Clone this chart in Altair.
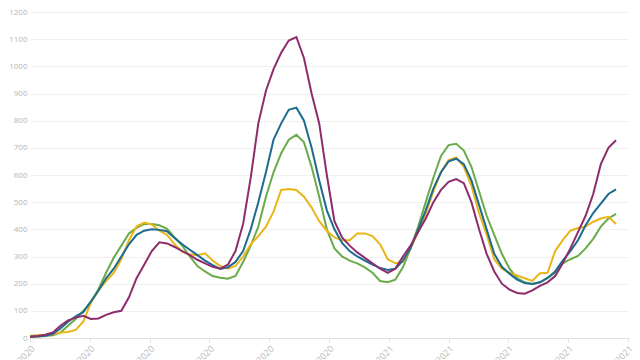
import altair as alt
import pandas as pd
import datetime as dt

start = dt.date(2020, 3, 1)
step_days = 7

purple = [5, 7, 12, 20, 45, 65, 75, 82, 70, 72,
          85, 95, 100, 150, 220, 270, 320, 352, 348, 335,
          320, 305, 288, 275, 262, 255, 270, 320, 420, 590,
          790, 910, 990, 1050, 1095, 1108, 1030, 900, 790, 600,
          430, 370, 340, 315, 295, 275, 255, 240, 255, 300,
          340, 390, 440, 500, 545, 575, 585, 570, 500, 400,
          310, 245, 200, 178, 166, 163, 175, 192, 205, 228,
          275, 330, 390, 450, 530, 640, 700, 728]
blue = [5, 6, 8, 15, 35, 60, 80, 95, 135, 175,
        220, 255, 300, 345, 380, 395, 400, 398, 393, 368,
        345, 325, 305, 285, 268, 254, 260, 280, 320, 400,
        500, 610, 730, 790, 840, 848, 800, 700, 580, 470,
        400, 350, 320, 300, 285, 270, 258, 250, 255, 285,
        330, 400, 470, 550, 610, 650, 660, 640, 580, 490,
        400, 310, 262, 237, 215, 202, 199, 205, 221, 245,
        285, 320, 360, 415, 460, 495, 530, 547]
green = [4, 5, 7, 10, 20, 45, 70, 100, 130, 180,
         240, 295, 340, 385, 405, 420, 420, 415, 402, 370,
         340, 300, 265, 245, 228, 222, 218, 228, 280, 340,
         410, 520, 610, 680, 730, 748, 720, 630, 520, 400,
         330, 300, 285, 275, 260, 240, 210, 205, 215, 260,
         330, 410, 500, 590, 670, 710, 715, 690, 630, 540,
         450, 380, 310, 255, 220, 205, 199, 205, 220, 240,
         275, 290, 302, 330, 365, 410, 440, 457]
yellow = [8, 10, 12, 15, 20, 22, 30, 60, 130, 175,
          210, 240, 290, 360, 410, 425, 418, 395, 380, 345,
          318, 308, 305, 312, 285, 265, 255, 265, 300, 345,
          375, 410, 465, 545, 548, 545, 520, 480, 430, 395,
          370, 360, 360, 385, 385, 375, 345, 290, 275, 280,
          330, 390, 460, 540, 610, 655, 665, 630, 560, 460,
          380, 290, 255, 240, 230, 220, 210, 238, 240, 320,
          360, 395, 405, 410, 428, 440, 446, 420]

series_names = ["Group A", "Group B", "Group C", "Group D"]
series_values = [green, yellow, blue, purple]
series_colors = ["#6aab4a", "#e9b517", "#1d6b8f", "#8e2c6e"]

y_ticks = list(range(0, 1300, 100))
tick_offsets = list(range(0, 551, 55))

rows = []
for name, vals in zip(series_names, series_values):
    for k, v in enumerate(vals):
        d = start + dt.timedelta(days=k * step_days)
        rows.append({"date": d.isoformat(), "series": name, "value": v})
df = pd.DataFrame(rows)

tick_dates = []
for off in tick_offsets:
    d = start + dt.timedelta(days=off)
    tick_dates.append(alt.DateTime(year=d.year, month=d.month, date=d.day))

end = start + dt.timedelta(days=550)

chart = alt.Chart(df).mark_line(strokeWidth=2).encode(
    x=alt.X("date:T",
            scale=alt.Scale(domain=[alt.DateTime(year=start.year, month=start.month, date=start.day),
                                    alt.DateTime(year=end.year, month=end.month, date=end.day)]),
            axis=alt.Axis(title=None, values=tick_dates, format="%-m/%-d/%Y",
                          labelAngle=-45, labelColor="#bbbbbb", labelFontSize=9,
                          labelFont="Open Sans", grid=False, domainColor="#e0e0e0",
                          tickColor="#e0e0e0", tickSize=4, labelPadding=2)),
    y=alt.Y("value:Q",
            scale=alt.Scale(domain=[0, 1200], nice=False),
            axis=alt.Axis(title=None, values=y_ticks, format="d", labelColor="#b5b5b5",
                          labelFontSize=8, labelFont="Open Sans", gridColor="#f0f0f0",
                          domain=False, ticks=False, labelPadding=3)),
    color=alt.Color("series:N", scale=alt.Scale(domain=series_names, range=series_colors),
                    legend=None),
    order=alt.Order("series:N"),
).properties(
    width=598, height=326,
    autosize=alt.AutoSizeParams(type="none"),
    padding={"left": 22, "top": 4, "right": 4, "bottom": 40},
).configure_view(stroke=None)

chart.save("out.html", embed_options={"renderer": "svg", "actions": False})
